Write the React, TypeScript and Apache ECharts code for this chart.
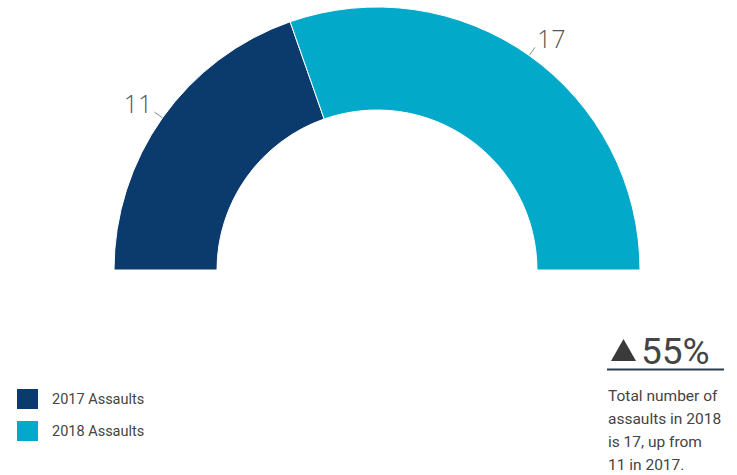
import React, { useEffect, useRef } from "react";
import * as echarts from "echarts";

const categories = ["2017 Assaults", "2018 Assaults"];
const values = [11, 17];
const colors = ["#0b3a6d", "#02a9c8"];
const changeText = "55%";
const noteLines = ["Total number of", "assaults in 2018", "is 17, up from", "11 in 2017."];

export default function App() {
  const ref = useRef<HTMLDivElement>(null);
  useEffect(() => {
    if (!ref.current) return;
    const chart = echarts.init(ref.current, null, { renderer: "svg" });
    chart.setOption({
      animation: false,
      textStyle: { fontFamily: "Roboto" },
      legend: {
        orient: "vertical",
        left: 15,
        top: 387,
        padding: 0,
        itemWidth: 23,
        itemHeight: 22,
        itemGap: 8,
        icon: "rect",
        selectedMode: false,
        textStyle: { fontFamily: "Roboto", fontSize: 14.5, color: "#444", padding: [0, 0, 0, 8] },
        data: categories,
      },
      series: [
        {
          type: "pie",
          center: [377, 270],
          radius: [160, 263],
          startAngle: 180,
          endAngle: 360,
          clockwise: true,
          itemStyle: { borderColor: "#fff", borderWidth: 1 },
          label: {
            show: true,
            position: "outside",
            formatter: "{c}",
            fontFamily: "Open Sans",
            fontWeight: 300,
            fontSize: 25,
            color: "#555",
            distanceToLabelLine: 2,
          },
          labelLine: { show: true, length: 10, length2: 0, lineStyle: { color: "#888", width: 1 } },
          labelLayout: { dy: -9 },
          emphasis: { disabled: true },
          data: categories.map((c, i) => ({ name: c, value: values[i], itemStyle: { color: colors[i] } })),
        },
      ],
      graphic: [
        {
          type: "polygon",
          shape: { points: [[611, 361], [636, 361], [623.5, 339]] },
          style: { fill: "#3a3a3a" },
        },
        {
          type: "text",
          left: 641,
          top: 333,
          style: { text: changeText, fontFamily: "Roboto", fontSize: 37, fill: "#444" },
        },
        {
          type: "line",
          shape: { x1: 607, y1: 369.5, x2: 724, y2: 369.5 },
          style: { stroke: "#2a3a4a", lineWidth: 2 },
        },
        {
          type: "text",
          left: 608,
          top: 384,
          style: {
            text: noteLines.join("\n"),
            fontFamily: "Roboto",
            fontSize: 15.5,
            lineHeight: 23,
            fill: "#444",
          },
        },
      ],
    });
    return () => chart.dispose();
  }, []);
  return <div ref={ref} style={{ width: 737, height: 475, position: "absolute", left: 0, top: 0 }} />;
}
